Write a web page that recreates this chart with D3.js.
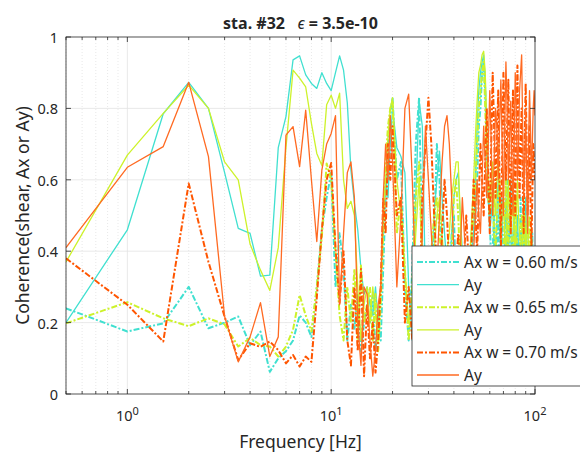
<!DOCTYPE html>
<html><head><meta charset="utf-8">
<script src="https://cdn.jsdelivr.net/npm/d3@7"></script>
<style>body{margin:0;background:#fff} text{font-family:"Noto Sans",sans-serif;fill:#262626;white-space:pre}</style>
</head><body><svg id="c" width="580" height="460"></svg>
<script>
// Frequencies (Hz)
const freq = [0.5,1,1.5,2,2.5,3,3.5,4,4.5,5,5.5,6,6.5,7,7.5,8,8.5,9,9.5,10,10.5,11,11.5,12,12.5,13,13.5,14,14.5,15,15.5,16,16.5,17,17.5,18,18.5,19,19.5,20,
 21,22,23,24,25,26,27,28,29,30,31,32,33,34,35,36,37,38,39,40,41,42,43,44,45,46,47,48,49,50,
 51,52,53,54,55,56,57,58,59,60,61,62,63,64,65,66,67,68,69,70,71,72,73,74,75,76,77,78,79,80,
 81,82,83,84,85,86,87,88,89,90,91,92,93,94,95,96,97,98,99,100];

const axW060 = [0.24,0.175,0.198,0.30,0.184,0.20,0.217,0.137,0.175,0.062,0.10,0.12,0.15,0.22,0.20,0.16,0.30,0.46,0.55,0.62,
 0.30,0.45,0.35,0.15,0.25,0.18,0.28,0.12,0.20,0.25,0.20,0.28,0.12,0.20,0.15,0.35,0.55,0.70,0.78,0.83,
 0.60,0.65,0.30,0.15,0.35,0.70,0.83,0.40,0.15,0.30,
 0.35,0.45,0.70,0.60,0.35,0.30,0.20,0.25,0.45,0.50,0.30,0.40,0.25,0.20,0.30,0.35,0.20,0.25,0.40,0.45,
 0.50,0.60,0.75,0.80,0.90,0.93,0.85,0.70,0.55,0.50,0.35,0.40,0.50,0.30,0.45,0.50,0.30,0.35,0.55,0.25,
 0.40,0.40,0.60,0.30,0.45,0.55,0.35,0.30,0.50,0.20,0.40,0.45,0.30,0.30,0.55,0.25,0.40,0.50,0.30,0.35,
 0.45,0.20,0.35,0.40,0.25,0.30,0.45,0.25,0.30,0.35];

const ayW060 = [0.20,0.46,0.785,0.873,0.80,0.62,0.464,0.45,0.33,0.333,0.69,0.777,0.936,0.947,0.894,0.87,0.856,0.90,0.87,0.85,
 0.90,0.947,0.907,0.815,0.627,0.535,0.46,0.35,0.28,0.30,0.25,0.22,0.30,0.20,0.30,0.45,0.60,0.55,0.70,0.80,
 0.69,0.665,0.62,0.30,0.15,0.55,0.82,0.75,0.30,0.20,
 0.35,0.50,0.60,0.68,0.55,0.45,0.35,0.30,0.45,0.55,0.60,0.62,0.50,0.40,0.30,0.20,0.25,0.30,0.40,0.45,
 0.60,0.75,0.85,0.90,0.93,0.95,0.88,0.70,0.55,0.45,0.50,0.55,0.40,0.35,0.50,0.60,0.45,0.40,0.35,0.30,
 0.45,0.55,0.40,0.35,0.50,0.60,0.45,0.40,0.35,0.30,0.45,0.50,0.40,0.35,0.40,0.45,0.35,0.30,0.45,0.55,
 0.40,0.35,0.30,0.25,0.35,0.45,0.35,0.30,0.35,0.40];

const axW065 = [0.198,0.257,0.212,0.19,0.212,0.195,0.133,0.157,0.137,0.133,0.105,0.133,0.18,0.277,0.22,0.175,0.30,0.44,0.646,0.60,
 0.40,0.22,0.15,0.30,0.20,0.35,0.15,0.36,0.20,0.25,0.30,0.15,0.28,0.12,0.25,0.45,0.65,0.75,0.80,0.82,
 0.45,0.55,0.35,0.15,0.30,0.55,0.65,0.35,0.20,0.35,
 0.40,0.50,0.55,0.45,0.35,0.30,0.20,0.25,0.40,0.55,0.60,0.50,0.35,0.30,0.25,0.20,0.30,0.35,0.45,0.50,
 0.60,0.70,0.80,0.85,0.90,0.93,0.80,0.65,0.55,0.50,0.55,0.60,0.45,0.40,0.50,0.55,0.60,0.45,0.40,0.35,
 0.50,0.60,0.45,0.40,0.55,0.50,0.40,0.35,0.50,0.55,0.45,0.40,0.35,0.30,0.45,0.50,0.40,0.35,0.50,0.45,
 0.35,0.30,0.45,0.50,0.40,0.35,0.30,0.30,0.35,0.40];

const ayW065 = [0.37,0.669,0.786,0.865,0.80,0.65,0.60,0.42,0.347,0.29,0.41,0.69,0.907,0.885,0.86,0.758,0.674,0.64,0.81,0.837,
 0.80,0.843,0.60,0.52,0.54,0.50,0.30,0.15,0.25,0.30,0.20,0.30,0.22,0.15,0.30,0.50,0.60,0.72,0.80,0.83,
 0.60,0.50,0.35,0.20,0.25,0.45,0.60,0.40,0.25,0.30,
 0.35,0.40,0.50,0.55,0.45,0.35,0.40,0.45,0.55,0.60,0.65,0.65,0.50,0.35,0.30,0.25,0.30,0.40,0.50,0.60,
 0.72,0.82,0.90,0.92,0.95,0.96,0.90,0.75,0.60,0.55,0.60,0.65,0.55,0.50,0.60,0.70,0.55,0.45,0.50,0.55,
 0.45,0.40,0.50,0.60,0.50,0.45,0.50,0.55,0.45,0.40,0.50,0.60,0.50,0.45,0.40,0.35,0.45,0.55,0.45,0.40,
 0.45,0.50,0.40,0.35,0.40,0.45,0.35,0.30,0.35,0.40];

const axW070 = [0.38,0.25,0.147,0.59,0.37,0.217,0.095,0.142,0.132,0.147,0.123,0.086,0.109,0.077,0.105,0.09,0.27,0.46,0.60,0.647,
 0.41,0.255,0.40,0.15,0.08,0.30,0.12,0.35,0.05,0.25,0.10,0.20,0.06,0.15,0.30,0.55,0.45,0.70,0.60,0.75,
 0.50,0.55,0.20,0.30,0.15,0.40,0.20,0.55,0.70,0.83,
 0.70,0.50,0.35,0.30,0.45,0.60,0.50,0.35,0.30,0.25,0.35,0.45,0.35,0.30,0.40,0.50,0.40,0.30,0.45,0.60,
 0.50,0.40,0.55,0.70,0.60,0.50,0.65,0.80,0.60,0.45,0.70,0.90,0.75,0.55,0.70,0.85,0.60,0.40,0.65,0.90,
 0.75,0.60,0.75,0.88,0.65,0.45,0.70,0.85,0.65,0.50,0.75,0.92,0.70,0.55,0.70,0.80,0.60,0.45,0.70,0.87,
 0.70,0.50,0.60,0.75,0.55,0.40,0.55,0.70,0.65,0.60];

const ayW070 = [0.41,0.635,0.693,0.873,0.665,0.217,0.09,0.16,0.256,0.105,0.16,0.725,0.749,0.637,0.795,0.60,0.427,0.627,0.70,0.73,
 0.78,0.25,0.45,0.62,0.65,0.55,0.20,0.08,0.30,0.28,0.15,0.05,0.12,0.25,0.30,0.55,0.70,0.60,0.78,0.65,
 0.30,0.50,0.80,0.84,0.60,0.30,0.20,0.45,0.75,0.60,
 0.45,0.30,0.35,0.50,0.65,0.75,0.78,0.70,0.55,0.40,0.35,0.30,0.40,0.55,0.45,0.35,0.25,0.20,0.30,0.40,
 0.50,0.60,0.50,0.45,0.60,0.75,0.65,0.55,0.70,0.85,0.70,0.50,0.65,0.80,0.75,0.60,0.75,0.88,0.70,0.50,
 0.75,0.93,0.80,0.60,0.70,0.82,0.65,0.50,0.70,0.90,0.80,0.60,0.70,0.85,0.90,0.95,0.75,0.55,0.65,0.80,
 0.60,0.45,0.70,0.85,0.75,0.60,0.70,0.80,0.85,0.78];

const seriesNames = ["Ax w = 0.60 m/s","Ay","Ax w = 0.65 m/s","Ay","Ax w = 0.70 m/s","Ay"];
const seriesValues = [axW060, ayW060, axW065, ayW065, axW070, ayW070];
const seriesColors = ["#40e0d0","#40e0d0","#cdf22a","#cdf22a","#ff5500","#ff6a22"];
const seriesDashed = [true,false,true,false,true,false];

const yTicks = [0,0.2,0.4,0.6,0.8,1];
const yTickLabels = ["0","0.2","0.4","0.6","0.8","1"];
const xTickExps = [0,1,2];

const svg = d3.select("#c");
const L=66, R=535, T=37, B=394;
const x = d3.scaleLog().domain([0.5,100]).range([L,R]);
const y = d3.scaleLinear().domain([0,1]).range([B,T]);

const minors = [];
[0.1,1,10].forEach(d=>{for(let k=2;k<=9;k++){const v=k*d; if(v>=0.5&&v<=100) minors.push(v);}});

// grid
const g = svg.append("g");
g.selectAll(".mg").data(minors).join("line")
 .attr("x1",d=>x(d)).attr("x2",d=>x(d)).attr("y1",T).attr("y2",B)
 .attr("stroke","#d9d9d9").attr("stroke-width",0.6).attr("stroke-dasharray","1,2");
g.selectAll(".xg").data([1,10]).join("line")
 .attr("x1",d=>x(d)).attr("x2",d=>x(d)).attr("y1",T).attr("y2",B)
 .attr("stroke","#e3e3e3").attr("stroke-width",0.8);
g.selectAll(".yg").data(yTicks.slice(1,5)).join("line")
 .attr("x1",L).attr("x2",R).attr("y1",d=>y(d)).attr("y2",d=>y(d))
 .attr("stroke","#e3e3e3").attr("stroke-width",0.8);

svg.append("clipPath").attr("id","clip").append("rect").attr("x",L).attr("y",T).attr("width",R-L).attr("height",B-T);

const line = d3.line().x((d,i)=>x(freq[i])).y(d=>y(d));
const lg = svg.append("g").attr("clip-path","url(#clip)");
seriesValues.forEach((vals,i)=>{
  lg.append("path").attr("d",line(vals)).attr("fill","none")
    .attr("stroke",seriesColors[i])
    .attr("stroke-width",seriesDashed[i]?2:1.3)
    .attr("stroke-dasharray",seriesDashed[i]?"6,2,2,2":null)
    .attr("stroke-linejoin","round");
});

svg.append("rect").attr("x",L).attr("y",T).attr("width",R-L).attr("height",B-T)
 .attr("fill","none").attr("stroke","#262626").attr("stroke-width",0.8);

const tk = svg.append("g").attr("stroke","#262626").attr("stroke-width",0.8);
[1,10,100].forEach(v=>{
  tk.append("line").attr("x1",x(v)).attr("x2",x(v)).attr("y1",B).attr("y2",B-5);
  tk.append("line").attr("x1",x(v)).attr("x2",x(v)).attr("y1",T).attr("y2",T+5);
});
minors.forEach(v=>{
  tk.append("line").attr("x1",x(v)).attr("x2",x(v)).attr("y1",B).attr("y2",B-3);
  tk.append("line").attr("x1",x(v)).attr("x2",x(v)).attr("y1",T).attr("y2",T+3);
});
yTicks.forEach(v=>{
  tk.append("line").attr("x1",L).attr("x2",L+5).attr("y1",y(v)).attr("y2",y(v));
  tk.append("line").attr("x1",R).attr("x2",R-5).attr("y1",y(v)).attr("y2",y(v));
});

svg.selectAll(".yl").data(yTicks).join("text")
 .attr("x",L-8).attr("y",d=>y(d)).attr("text-anchor","end").attr("dominant-baseline","central")
 .attr("font-size",14.5).text((d,i)=>yTickLabels[i]);

xTickExps.forEach(e=>{
  const t = svg.append("text").attr("x",x(Math.pow(10,e))).attr("y",421).attr("text-anchor","middle").attr("font-size",14.5);
  t.append("tspan").text("10");
  t.append("tspan").attr("dy",-6).attr("font-size",11).text(String(e));
});

svg.append("text").attr("x",(L+R)/2).attr("y",448).attr("text-anchor","middle").attr("font-size",17.5).text("Frequency [Hz]");
svg.append("text").attr("transform",`translate(29,${(T+B)/2}) rotate(-90)`).attr("text-anchor","middle").attr("font-size",17.5)
 .text("Coherence(shear, Ax or Ay)");

const tt = svg.append("text").attr("x",(L+R)/2).attr("y",29).attr("text-anchor","middle").attr("font-size",16).attr("font-weight","bold");
tt.append("tspan").text("sta. #32   ");
tt.append("tspan").attr("font-weight","normal").attr("font-style","italic").text("\u03F5");
tt.append("tspan").text(" = 3.5e-10");

const lgd = svg.append("g");
lgd.append("rect").attr("x",412).attr("y",246).attr("width",172).attr("height",140)
 .attr("fill","#fff").attr("stroke","#262626").attr("stroke-width",0.8);
seriesNames.forEach((n,i)=>{
  const yy = 262 + i*22.6;
  lgd.append("line").attr("x1",417).attr("x2",459).attr("y1",yy).attr("y2",yy)
   .attr("stroke",seriesColors[i]).attr("stroke-width",seriesDashed[i]?2:1.3)
   .attr("stroke-dasharray",seriesDashed[i]?"6,2,2,2":null);
  lgd.append("text").attr("x",464).attr("y",yy).attr("dominant-baseline","central").attr("font-size",15.5).text(n);
});
</script></body></html>
